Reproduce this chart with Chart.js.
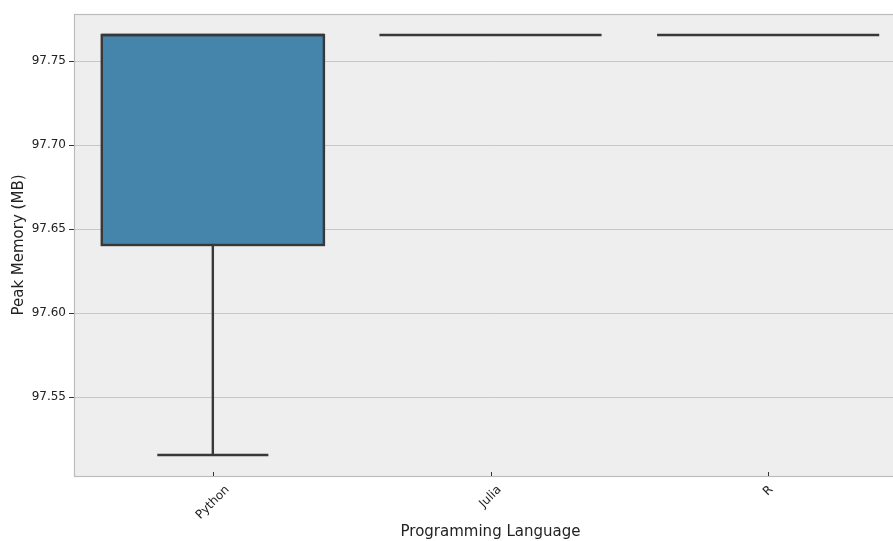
<!DOCTYPE html>
<html>
<head>
<meta charset="utf-8">
<script src="https://cdn.jsdelivr.net/npm/chart.js@4/dist/chart.umd.min.js"></script>
<style>
  html, body { margin: 0; padding: 0; background: #ffffff; overflow: hidden; }
  #wrap { position: absolute; left: 0; top: 0; width: 907px; height: 541px; }
</style>
</head>
<body>
<div id="wrap"><canvas id="c"></canvas></div>
<script>
// ---- data ----
const categories = ['Python', 'Julia', 'R'];
const whiskerLow  = [97.515625, 97.765625, 97.765625];
const q1          = [97.640625, 97.765625, 97.765625];
const median      = [97.765625, 97.765625, 97.765625];
const q3          = [97.765625, 97.765625, 97.765625];
const whiskerHigh = [97.765625, 97.765625, 97.765625];
const yTicks      = [97.55, 97.60, 97.65, 97.70, 97.75];
const yMin = 97.503125;
const yMax = 97.778125;
const xTitle = 'Programming Language';
const yTitle = 'Peak Memory (MB)';

const FONT = "'DejaVu Sans', sans-serif";
const EDGE = '#383838';
const LW = 2.4;

const boxPlugin = {
  id: 'boxPlugin',
  beforeDraw(chart) {
    const { ctx, chartArea: a } = chart;
    ctx.save();
    ctx.fillStyle = '#eeeeee';
    ctx.fillRect(a.left, a.top, a.right - a.left, a.bottom - a.top);
    ctx.restore();
  },
  beforeDatasetsDraw(chart) {
    const { ctx, chartArea: a, scales } = chart;
    ctx.save();
    ctx.strokeStyle = '#bcbcbc';
    ctx.lineWidth = 1.2;
    ctx.strokeRect(a.left + 0.5, a.top + 0.5, a.right - a.left - 1, a.bottom - a.top);
    ctx.strokeStyle = '#333333';
    ctx.lineWidth = 1;
    categories.forEach((c, i) => {
      const x = Math.round(scales.x.getPixelForValue(i)) + 0.5;
      ctx.beginPath();
      ctx.moveTo(x, a.bottom);
      ctx.lineTo(x, a.bottom - 4);
      ctx.stroke();
    });
    ctx.restore();
  },
  afterDatasetsDraw(chart) {
    const { ctx, scales } = chart;
    const meta = chart.getDatasetMeta(0);
    const y = scales.y;
    ctx.save();
    ctx.strokeStyle = EDGE;
    ctx.lineWidth = LW;
    ctx.lineCap = 'butt';
    ctx.lineJoin = 'miter';
    meta.data.forEach((bar, i) => {
      const cx = bar.x;
      const w = bar.width;
      const yq1 = y.getPixelForValue(q1[i]);
      const yq3 = y.getPixelForValue(q3[i]);
      const ylo = y.getPixelForValue(whiskerLow[i]);
      const yhi = y.getPixelForValue(whiskerHigh[i]);
      const ymed = y.getPixelForValue(median[i]);
      if (ylo - yq1 > 0.5) {
        ctx.beginPath(); ctx.moveTo(cx, yq1); ctx.lineTo(cx, ylo); ctx.stroke();
        ctx.beginPath(); ctx.moveTo(cx - w / 4, ylo); ctx.lineTo(cx + w / 4, ylo); ctx.stroke();
      }
      if (yq3 - yhi > 0.5) {
        ctx.beginPath(); ctx.moveTo(cx, yq3); ctx.lineTo(cx, yhi); ctx.stroke();
        ctx.beginPath(); ctx.moveTo(cx - w / 4, yhi); ctx.lineTo(cx + w / 4, yhi); ctx.stroke();
      }
      // box outline (centered on edges)
      if (yq1 - yq3 > 0.5) {
        ctx.strokeRect(cx - w / 2, yq3, w, yq1 - yq3);
      }
      // median
      ctx.beginPath(); ctx.moveTo(cx - w / 2, ymed); ctx.lineTo(cx + w / 2, ymed); ctx.stroke();
    });
    ctx.restore();
  },
  afterDraw(chart) {
    const { ctx, chartArea: a, scales } = chart;
    ctx.save();
    ctx.font = '12px ' + FONT;
    ctx.fillStyle = '#222222';
    ctx.textAlign = 'center';
    ctx.textBaseline = 'middle';
    const h = 14;
    categories.forEach((c, i) => {
      const x = scales.x.getPixelForValue(i);
      const w = ctx.measureText(c).width;
      const span = (w + h) * Math.SQRT1_2;
      const cy = a.bottom + 7 + span / 2;
      ctx.save();
      ctx.translate(x, cy);
      ctx.rotate(-Math.PI / 4);
      ctx.fillText(c, 0, 0);
      ctx.restore();
    });
    ctx.restore();
  }
};

new Chart(document.getElementById('c'), {
  type: 'bar',
  data: {
    labels: categories,
    datasets: [{
      data: categories.map((c, i) => [q1[i], q3[i]]),
      backgroundColor: '#4585ab',
      borderWidth: 0,
      barPercentage: 0.8,
      categoryPercentage: 1.0
    }]
  },
  options: {
    responsive: true,
    maintainAspectRatio: false,
    animation: false,
    devicePixelRatio: 1,
    layout: { padding: { left: 0, right: 0, top: 14, bottom: 0 } },
    plugins: { legend: { display: false }, tooltip: { enabled: false }, title: { display: false } },
    scales: {
      x: {
        type: 'category',
        offset: true,
        grid: { display: false, drawTicks: false },
        border: { display: false },
        ticks: { display: false },
        title: { display: true, text: xTitle, color: '#222222', font: { family: FONT, size: 15 }, padding: { top: 0, bottom: 0 } },
        afterFit(scale) { scale.height = 65; }
      },
      y: {
        type: 'linear',
        min: yMin,
        max: yMax,
        afterBuildTicks(scale) { scale.ticks = yTicks.map(v => ({ value: v })); },
        grid: {
          color: '#bdbdbd',
          lineWidth: 0.8,
          borderDash: [2, 2],
          drawTicks: true,
          tickLength: 5,
          tickColor: '#333333',
          tickWidth: 1,
          tickBorderDash: []
        },
        border: { display: false },
        ticks: {
          color: '#222222',
          font: { family: FONT, size: 12 },
          padding: 3,
          callback: v => Number(v).toFixed(2)
        },
        title: { display: true, text: yTitle, color: '#222222', font: { family: FONT, size: 15 }, padding: { top: 10.5, bottom: 0 } },
        afterFit(scale) { scale.width = 74; }
      }
    }
  },
  plugins: [boxPlugin]
});
</script>
</body>
</html>
